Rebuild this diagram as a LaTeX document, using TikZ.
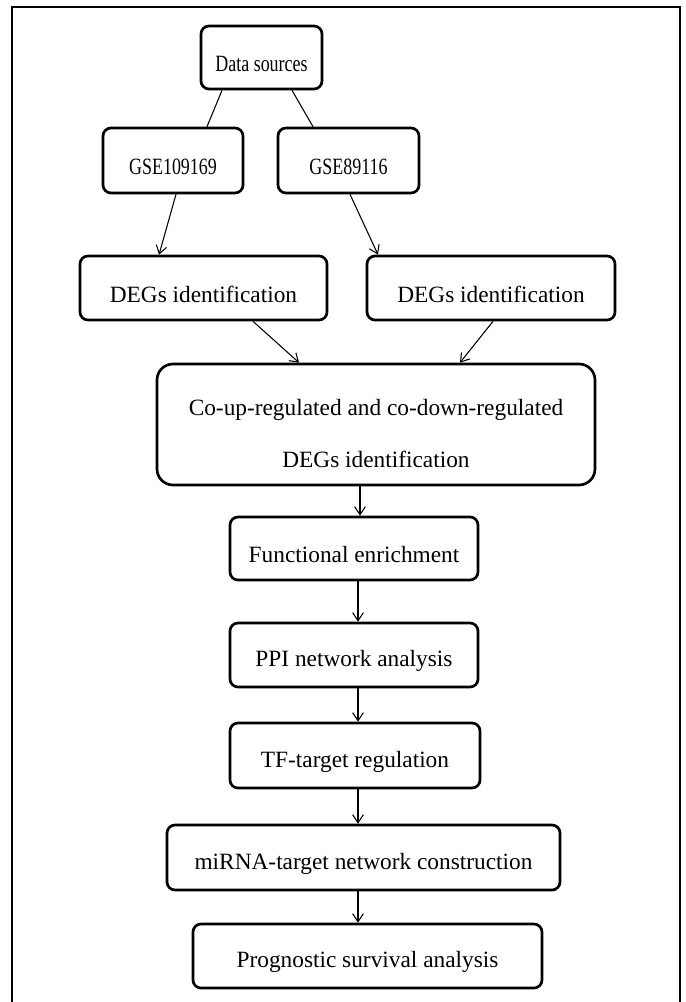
\documentclass[tikz,border=0pt]{standalone}
\usepackage{fontspec}
\usepackage{graphicx}
\setmainfont{Liberation Serif}
\usetikzlibrary{arrows.meta,calc}
\newcommand{\lowtxt}[1]{\raisebox{-4.8pt}[\height][\depth]{#1}}
\newcommand{\narrowtxt}[1]{\lowtxt{\scalebox{0.77}[1]{#1}}}
\tikzset{
  boxbase/.style={draw, line width=2pt, rounded corners=6pt, inner sep=0pt, align=center,
                  font=\fontsize{17.5}{21}\selectfont},
  smallbox/.style={boxbase},
  bigbox/.style={boxbase},
  conn/.style={line width=0.8pt},
  arr/.style={conn, -{Straight Barb[length=6pt,width=8pt,line width=0.8pt]}},
  frameline/.style={line width=2.2pt}
}
\begin{document}
\begin{tikzpicture}[x=0.75pt,y=-0.75pt]
\useasboundingbox (0,0) rectangle (685,1002);
\draw[frameline] (12,1002) -- (12,7) -- (680,7) -- (680,1002);

\node[smallbox, minimum width=121*0.75pt, minimum height=63*0.75pt] (ds) at (261.5,57.5) {\narrowtxt{Data sources}};
\node[smallbox, minimum width=140*0.75pt, minimum height=65*0.75pt] (g1) at (173,160.5) {\narrowtxt{GSE109169}};
\node[smallbox, minimum width=141*0.75pt, minimum height=65*0.75pt] (g2) at (348.5,160.5) {\narrowtxt{GSE89116}};
\node[bigbox, minimum width=247*0.75pt, minimum height=64*0.75pt] (d1) at (203.5,288) {\lowtxt{DEGs identification}};
\node[bigbox, minimum width=248*0.75pt, minimum height=64*0.75pt] (d2) at (491,288) {\lowtxt{DEGs identification}};
\node[bigbox, rounded corners=12pt, minimum width=438*0.75pt, minimum height=121*0.75pt,
      font=\fontsize{17.5}{39}\selectfont] (co) at (376,424.5)
      {\lowtxt{\begin{tabular}{@{}c@{}}Co-up-regulated and co-down-regulated\\DEGs identification\end{tabular}}};
\node[bigbox, minimum width=248*0.75pt, minimum height=63*0.75pt] (fe) at (354,548.5) {\lowtxt{Functional enrichment}};
\node[bigbox, minimum width=248*0.75pt, minimum height=64*0.75pt] (ppi) at (354,655) {\lowtxt{PPI network analysis}};
\node[bigbox, minimum width=250*0.75pt, minimum height=65*0.75pt] (tf) at (355,755.5) {\lowtxt{TF-target regulation}};
\node[bigbox, minimum width=393*0.75pt, minimum height=65*0.75pt] (mi) at (363.5,857.5) {\lowtxt{miRNA-target network construction}};
\node[bigbox, minimum width=349*0.75pt, minimum height=64*0.75pt] (pr) at (367.5,956) {\lowtxt{Prognostic survival analysis}};

\draw[conn] ($(ds.south)+(-39.5,0)$) -- ($(g1.north)+(34,0)$);
\draw[conn] ($(ds.south)+(30.5,0)$) -- ($(g2.north)+(-35.5,0)$);
\draw[arr] ($(g1.south)+(3,0)$) -- ($(d1.north)+(-44.5,0)$);
\draw[arr] ($(g2.south)+(1.5,0)$) -- ($(d2.north)+(-113,0)$);
\draw[arr] ($(d1.south)+(49.5,0)$) -- ($(co.north)+(-77,0)$);
\draw[arr] ($(d2.south)+(2,0)$) -- ($(co.north)+(84,0)$);
\draw[arr] ($(co.south)+(-16,0)$) -- ($(fe.north)+(6,0)$);
\draw[arr] ($(fe.south)+(4,0)$) -- ($(ppi.north)+(4,0)$);
\draw[arr] ($(ppi.south)+(4,0)$) -- ($(tf.north)+(3,0)$);
\draw[arr] ($(tf.south)+(3,0)$) -- ($(mi.north)+(-5.5,0)$);
\draw[arr] ($(mi.south)+(-5.5,0)$) -- ($(pr.north)+(-9.5,0)$);
\end{tikzpicture}
\end{document}
